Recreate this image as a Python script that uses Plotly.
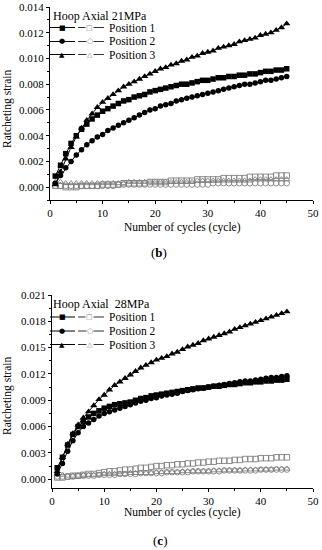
import plotly.graph_objects as go

cycles = list(range(1, 46))

# ---- panel (b): 21 MPa ----
b_hoop_p1 = [0.00086, 0.0017, 0.0026, 0.0034, 0.0040, 0.0045, 0.0049, 0.0053, 0.0056, 0.0059,
             0.0061, 0.0063, 0.0065, 0.0067, 0.0068, 0.0070, 0.0071, 0.0072, 0.0074, 0.0075,
             0.0076, 0.0077, 0.0078, 0.0079, 0.0080, 0.0080, 0.0081, 0.0082, 0.0083, 0.0083,
             0.0084, 0.0085, 0.0085, 0.0086, 0.0086, 0.0087, 0.0087, 0.0088, 0.0088, 0.0089,
             0.0090, 0.0090, 0.0091, 0.0091, 0.0092]
b_hoop_p2 = [0.0003, 0.0009, 0.0015, 0.0020, 0.0025, 0.0029, 0.0033, 0.0036, 0.0039, 0.0041,
             0.0044, 0.0046, 0.0048, 0.0050, 0.0052, 0.0054, 0.0056, 0.0058, 0.0060, 0.0061,
             0.0063, 0.0064, 0.0065, 0.0067, 0.0068, 0.0069, 0.0070, 0.0071, 0.0072, 0.0073,
             0.0074, 0.0075, 0.0076, 0.0077, 0.0078, 0.0079, 0.0080, 0.0080, 0.0081, 0.0082,
             0.0083, 0.0083, 0.0084, 0.0085, 0.0086]
b_hoop_p3 = [0.0002, 0.0012, 0.0022, 0.0031, 0.0039, 0.0046, 0.0052, 0.0057, 0.0062, 0.0066,
             0.0069, 0.0072, 0.0075, 0.0078, 0.0080, 0.0082, 0.0084, 0.0086, 0.0088, 0.0090,
             0.0092, 0.0093, 0.0095, 0.0096, 0.0098, 0.0099, 0.0101, 0.0102, 0.0104, 0.0105,
             0.0106, 0.0108, 0.0109, 0.0110, 0.0111, 0.0113, 0.0114, 0.0115, 0.0116, 0.0118,
             0.0119, 0.0120, 0.0122, 0.0124, 0.0127]
b_axial_p1 = [0.0001, 0.0001, 0.0000, 0.0000, 0.0000, 0.0001, 0.0001, 0.0001, 0.0001, 0.0002,
              0.0002, 0.0002, 0.0002, 0.0003, 0.0003, 0.0003, 0.0003, 0.0003, 0.0004, 0.0004,
              0.0004, 0.0004, 0.0005, 0.0005, 0.0005, 0.0005, 0.0005, 0.0006, 0.0006, 0.0006,
              0.0006, 0.0006, 0.0007, 0.0007, 0.0007, 0.0007, 0.0007, 0.0008, 0.0008, 0.0008,
              0.0008, 0.0008, 0.0009, 0.0009, 0.0009]
b_axial_p2 = [0.0001, 0.0001, 0.0001, 0.0001, 0.0001, 0.0001, 0.0001, 0.0001, 0.0001, 0.0001,
              0.0001, 0.0001, 0.0002, 0.0002, 0.0002, 0.0002, 0.0002, 0.0002, 0.0002, 0.0002,
              0.0002, 0.0002, 0.0002, 0.0002, 0.0002, 0.0002, 0.0002, 0.0002, 0.0002, 0.0002,
              0.0003, 0.0003, 0.0003, 0.0003, 0.0003, 0.0003, 0.0003, 0.0003, 0.0003, 0.0003,
              0.0003, 0.0003, 0.0003, 0.0003, 0.0003]
b_axial_p3 = [0.0004, 0.0004, 0.0003, 0.0003, 0.0003, 0.0003, 0.0003, 0.0003, 0.0003, 0.0003,
              0.0003, 0.0003, 0.0003, 0.0003, 0.0004, 0.0004, 0.0004, 0.0004, 0.0004, 0.0004,
              0.0004, 0.0004, 0.0004, 0.0004, 0.0004, 0.0004, 0.0004, 0.0005, 0.0005, 0.0005,
              0.0005, 0.0005, 0.0005, 0.0005, 0.0005, 0.0005, 0.0005, 0.0005, 0.0006, 0.0006,
              0.0006, 0.0006, 0.0006, 0.0006, 0.0006]

# ---- panel (c): 28 MPa ----
c_hoop_p1 = [0.0013, 0.0025, 0.0039, 0.0051, 0.0060, 0.0066, 0.0071, 0.0075, 0.0078, 0.0081,
             0.0083, 0.0085, 0.0086, 0.0087, 0.0088, 0.0090, 0.0092, 0.0093, 0.0095, 0.0096,
             0.0097, 0.0098, 0.0099, 0.0100, 0.0101, 0.0102, 0.0103, 0.0104, 0.0104, 0.0105,
             0.0106, 0.0106, 0.0107, 0.0108, 0.0108, 0.0109, 0.0110, 0.0110, 0.0111, 0.0111,
             0.0112, 0.0112, 0.0113, 0.0113, 0.0114]
c_hoop_p2 = [0.0006, 0.0018, 0.0032, 0.0044, 0.0053, 0.0060, 0.0064, 0.0068, 0.0072, 0.0075,
             0.0077, 0.0079, 0.0081, 0.0083, 0.0085, 0.0087, 0.0089, 0.0090, 0.0092, 0.0093,
             0.0095, 0.0096, 0.0097, 0.0098, 0.0100, 0.0101, 0.0102, 0.0103, 0.0104, 0.0105,
             0.0106, 0.0107, 0.0108, 0.0109, 0.0110, 0.0111, 0.0112, 0.0112, 0.0113, 0.0114,
             0.0115, 0.0116, 0.0116, 0.0117, 0.0118]
c_hoop_p3 = [0.0009, 0.0025, 0.0040, 0.0052, 0.0062, 0.0070, 0.0077, 0.0084, 0.0091, 0.0096,
             0.0102, 0.0107, 0.0111, 0.0115, 0.0119, 0.0123, 0.0127, 0.0130, 0.0133, 0.0136,
             0.0138, 0.0140, 0.0143, 0.0145, 0.0148, 0.0151, 0.0153, 0.0155, 0.0158, 0.0160,
             0.0162, 0.0164, 0.0166, 0.0168, 0.0171, 0.0173, 0.0175, 0.0177, 0.0179, 0.0181,
             0.0183, 0.0185, 0.0187, 0.0189, 0.0191]
c_axial_p1 = [0.0002, 0.0002, 0.0003, 0.0004, 0.0004, 0.0005, 0.0006, 0.0006, 0.0007, 0.0008,
              0.0009, 0.0009, 0.0010, 0.0011, 0.0011, 0.0012, 0.0013, 0.0013, 0.0014, 0.0015,
              0.0015, 0.0016, 0.0016, 0.0017, 0.0017, 0.0018, 0.0018, 0.0019, 0.0019, 0.0020,
              0.0020, 0.0021, 0.0021, 0.0021, 0.0022, 0.0022, 0.0023, 0.0023, 0.0023, 0.0024,
              0.0024, 0.0024, 0.0025, 0.0025, 0.0025]
c_axial_p2 = [0.0003, 0.0003, 0.0003, 0.0003, 0.0004, 0.0004, 0.0004, 0.0004, 0.0005, 0.0005,
              0.0005, 0.0005, 0.0006, 0.0006, 0.0006, 0.0006, 0.0007, 0.0007, 0.0007, 0.0007,
              0.0007, 0.0008, 0.0008, 0.0008, 0.0008, 0.0008, 0.0009, 0.0009, 0.0009, 0.0009,
              0.0009, 0.0009, 0.0010, 0.0010, 0.0010, 0.0010, 0.0010, 0.0010, 0.0010, 0.0011,
              0.0011, 0.0011, 0.0011, 0.0011, 0.0011]
c_axial_p3 = [0.0006, 0.0005, 0.0004, 0.0004, 0.0004, 0.0005, 0.0005, 0.0005, 0.0005, 0.0006,
              0.0006, 0.0006, 0.0006, 0.0006, 0.0007, 0.0007, 0.0007, 0.0007, 0.0007, 0.0008,
              0.0008, 0.0008, 0.0008, 0.0008, 0.0009, 0.0009, 0.0009, 0.0009, 0.0009, 0.0009,
              0.0010, 0.0010, 0.0010, 0.0010, 0.0010, 0.0010, 0.0011, 0.0011, 0.0011, 0.0011,
              0.0011, 0.0011, 0.0012, 0.0012, 0.0012]

position_names = ["Position 1", "Position 2", "Position 3"]
b_title = "Hoop Axial 21MPa"
c_title = "Hoop Axial \u00a028MPa"

W, H = 322, 550
def px(X): return X / W
def py(Y): return 1 - Y / H

SERIF = "Liberation Serif, Times New Roman, serif"
GREY = "#808080"
filled_sym = ["square", "circle", "triangle-up"]
open_sym = ["square-open", "circle-open", "triangle-up-open"]
filled_txt = ["\u25A0", "\u25CF", "\u25B2"]
open_txt = ["\u25A1", "\u25CB", "\u25B3"]

fig = go.Figure()

panels = [
    dict(xa="x", ya="y", hoop=[b_hoop_p1, b_hoop_p2, b_hoop_p3],
         axial=[b_axial_p1, b_axial_p2, b_axial_p3]),
    dict(xa="x2", ya="y2", hoop=[c_hoop_p1, c_hoop_p2, c_hoop_p3],
         axial=[c_axial_p1, c_axial_p2, c_axial_p3]),
]
for p in panels:
    for i in range(3):
        fig.add_trace(go.Scatter(x=cycles, y=p["axial"][i], xaxis=p["xa"], yaxis=p["ya"],
                                 mode="markers", showlegend=False, cliponaxis=False,
                                 marker=dict(symbol=open_sym[i], size=5.5, color=GREY,
                                             line=dict(width=0.9, color=GREY))))
    for i in range(3):
        fig.add_trace(go.Scatter(x=cycles, y=p["hoop"][i], xaxis=p["xa"], yaxis=p["ya"],
                                 mode="lines+markers", showlegend=False, cliponaxis=False,
                                 line=dict(color="black", width=1),
                                 marker=dict(symbol=filled_sym[i], size=5.5 if i < 2 else 6.5,
                                             color="black")))

axis_common = dict(showline=True, linecolor="black", linewidth=1, showgrid=False,
                   zeroline=False, ticks="outside", ticklen=3, tickwidth=1, tickcolor="black",
                   automargin=False,
                   tickfont=dict(family=SERIF, size=11, color="black"), mirror=False)

fig.update_layout(
    template="none",
    width=W, height=H, margin=dict(l=0, r=0, t=0, b=0, pad=0),
    paper_bgcolor="white", plot_bgcolor="white",
    xaxis=dict(domain=[px(50), px(313)], anchor="y", range=[0, 50], dtick=10,
               minor=dict(ticks="outside", ticklen=2, dtick=5, tickcolor="black"), **axis_common),
    yaxis=dict(domain=[py(200), py(7)], anchor="x", range=[-0.001, 0.014], dtick=0.002,
               tickformat=".3f",
               minor=dict(ticks="outside", ticklen=2, dtick=0.001, tickcolor="black"), **axis_common),
    xaxis2=dict(domain=[px(52), px(313)], anchor="y2", range=[0, 50], dtick=10,
                minor=dict(ticks="outside", ticklen=2, dtick=5, tickcolor="black"), **axis_common),
    yaxis2=dict(domain=[py(488), py(295)], anchor="x2", range=[-0.001, 0.021], dtick=0.003,
                tickformat=".3f",
                minor=dict(ticks="outside", ticklen=2, dtick=0.0015, tickcolor="black"), **axis_common),
)

ann = []
shapes = []
def text(X, Y, s, size, xanchor="center", angle=0, family=SERIF, color="black"):
    ann.append(dict(x=px(X), y=py(Y), xref="paper", yref="paper", text=s, showarrow=False,
                    xanchor=xanchor, yanchor="middle", textangle=angle,
                    font=dict(family=family, size=size, color=color)))

# axis titles and panel labels
text(182, 227, "Number of cycles (cycle)", 11.5)
text(182, 512, "Number of cycles (cycle)", 11.5)
text(7, 109, "Ratcheting strain", 11.5, angle=-90)
text(7, 396, "Ratcheting strain", 11.5, angle=-90)
text(159, 253, "(<b>b</b>)", 13)
text(160, 540, "(<b>c</b>)", 13)

# custom legends
def legend(title, Ytitle, rows):
    text(51, Ytitle, title, 12, xanchor="left")
    for i, Y in enumerate(rows):
        shapes.append(dict(type="line", xref="paper", yref="paper", x0=px(50), x1=px(75),
                           y0=py(Y), y1=py(Y), line=dict(color="black", width=1)))
        shapes.append(dict(type="line", xref="paper", yref="paper", x0=px(78), x1=px(104),
                           y0=py(Y), y1=py(Y), line=dict(color="#333333", width=1)))
        text(62, Y, filled_txt[i], 7, family="DejaVu Sans")
        ann.append(dict(x=px(90), y=py(Y), xref="paper", yref="paper", text=open_txt[i],
                        showarrow=False, xanchor="center", yanchor="middle", bgcolor="white",
                        borderpad=0, font=dict(family="DejaVu Sans", size=7, color=GREY)))
        text(107, Y, position_names[i], 11.5, xanchor="left")

legend(b_title, 16, [27.5, 41.5, 54.5])
legend(c_title, 304, [317, 331, 344.5])

fig.update_layout(annotations=ann, shapes=shapes)
fig.write_html("out.html", config={"displayModeBar": False},
               post_script="document.body.style.margin='0';document.body.style.padding='0';"
                           "document.body.style.overflow='hidden';")
